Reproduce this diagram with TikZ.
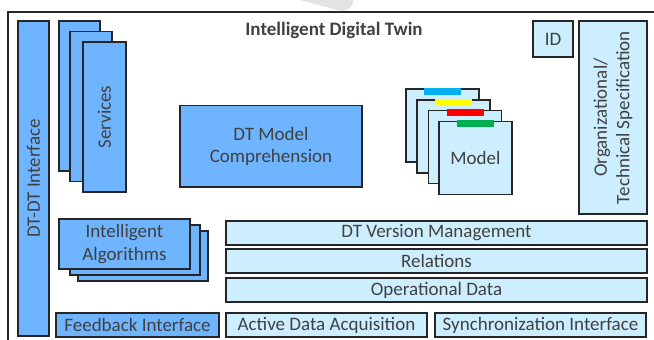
\documentclass[tikz,border=0pt]{standalone}
\usepackage{fontspec}
\setmainfont{Carlito}
\definecolor{dkblue}{HTML}{6EB4FF}
\definecolor{ltblue}{HTML}{CCEEFF}
\definecolor{bordc}{HTML}{262626}
\definecolor{txtc}{HTML}{404040}
\definecolor{tabblue}{HTML}{00B0F0}
\definecolor{tabyellow}{HTML}{FFFF00}
\definecolor{tabred}{HTML}{FF0000}
\definecolor{tabgreen}{HTML}{00B050}
\begin{document}
\begin{tikzpicture}[x=1pt,y=-1pt,
  base/.style={draw=bordc, line width=1.3pt, text=txtc, inner sep=0pt, align=center,
    font=\fontsize{19}{22.5}\selectfont},
  dk/.style={base, fill=dkblue},
  lt/.style={base, fill=ltblue},
  tab/.style={inner sep=0pt, minimum width=37pt, minimum height=7pt, anchor=north}]
\useasboundingbox (0,0) rectangle (654,340);
\fill[white] (0,0) rectangle (654,340);
% gray blob at top
\fill[gray!22] (300,0) -- (353,0) .. controls (354,7) and (346,13) .. (337,10) -- cycle;
% outer frame
\coordinate (fr1) at (654,12);
\coordinate (fr2) at (8,12);
\coordinate (fr3) at (8,340);
\draw[bordc, line width=1.2pt] (fr1) -- (fr2) -- (fr3);
% title
\node[text=txtc, font=\fontsize{19}{22}\selectfont\bfseries] (title) at (334,30) {Intelligent Digital Twin};
% DT-DT Interface
\node[dk, rotate=90, minimum width=315pt, minimum height=31pt] (ddt) at (33.5,178.5) {DT-DT Interface};
% Services stack
\node[dk, minimum width=41pt, minimum height=150pt] (svcA) at (79.5,96) {};
\node[dk, minimum width=42pt, minimum height=150pt] (svcB) at (91,106.75) {};
\node[dk, minimum width=43pt, minimum height=150pt] (svcC) at (104.5,117) {};
\node[text=txtc, rotate=90, font=\fontsize{19}{22.5}\selectfont] (svct) at (svcC) {Services};
% DT Model Comprehension
\node[dk, minimum width=182pt, minimum height=81.5pt] (dtmc) at (271,146.25) {DT Model\\Comprehension};
% Model stack
\node[lt, minimum width=73pt, minimum height=73pt] (m1) at (442.5,125.5) {};
\node[tab, fill=tabblue] (t1) at ([yshift=1pt]m1.north) {};
\node[lt, minimum width=73pt, minimum height=73pt] (m2) at (453.5,136.5) {};
\node[tab, fill=tabyellow] (t2) at ([yshift=1pt]m2.north) {};
\node[lt, minimum width=73pt, minimum height=73pt] (m3) at (465,147) {};
\node[tab, fill=tabred] (t3) at ([yshift=1pt]m3.north) {};
\node[lt, minimum width=73pt, minimum height=73pt] (m4) at (475.5,158) {Model};
\node[tab, fill=tabgreen] (t4) at ([yshift=1pt]m4.north) {};
% ID
\node[lt, minimum width=40pt, minimum height=36pt] (id) at (553,39) {ID};
% Organizational / Technical Specification
\node[lt, rotate=90, minimum width=193pt, minimum height=68pt] (org) at (613,117.5) {Organizational/\\Technical Specification};
% Intelligent Algorithms stack
\node[dk, minimum width=130pt, minimum height=50pt] (alC) at (143,256) {};
\node[dk, minimum width=130pt, minimum height=50pt] (alB) at (135,250) {};
\node[dk, minimum width=131pt, minimum height=50pt] (alA) at (124.5,244) {Intelligent\\Algorithms};
% layers
\node[lt, minimum width=421pt, minimum height=24pt] (ver) at (436.5,233) {DT Version Management};
\node[lt, minimum width=421pt, minimum height=24pt] (rel) at (436.5,261) {Relations};
\node[lt, minimum width=421pt, minimum height=24pt] (op) at (436.5,290) {Operational Data};
% bottom interfaces
\node[dk, minimum width=163pt, minimum height=24pt] (fb) at (137.5,325) {Feedback Interface};
\node[lt, minimum width=201pt, minimum height=24pt] (ada) at (326.5,325) {Active Data Acquisition};
\node[lt, minimum width=211pt, minimum height=24pt] (sync) at (540.5,325) {Synchronization Interface};
\end{tikzpicture}
\end{document}
